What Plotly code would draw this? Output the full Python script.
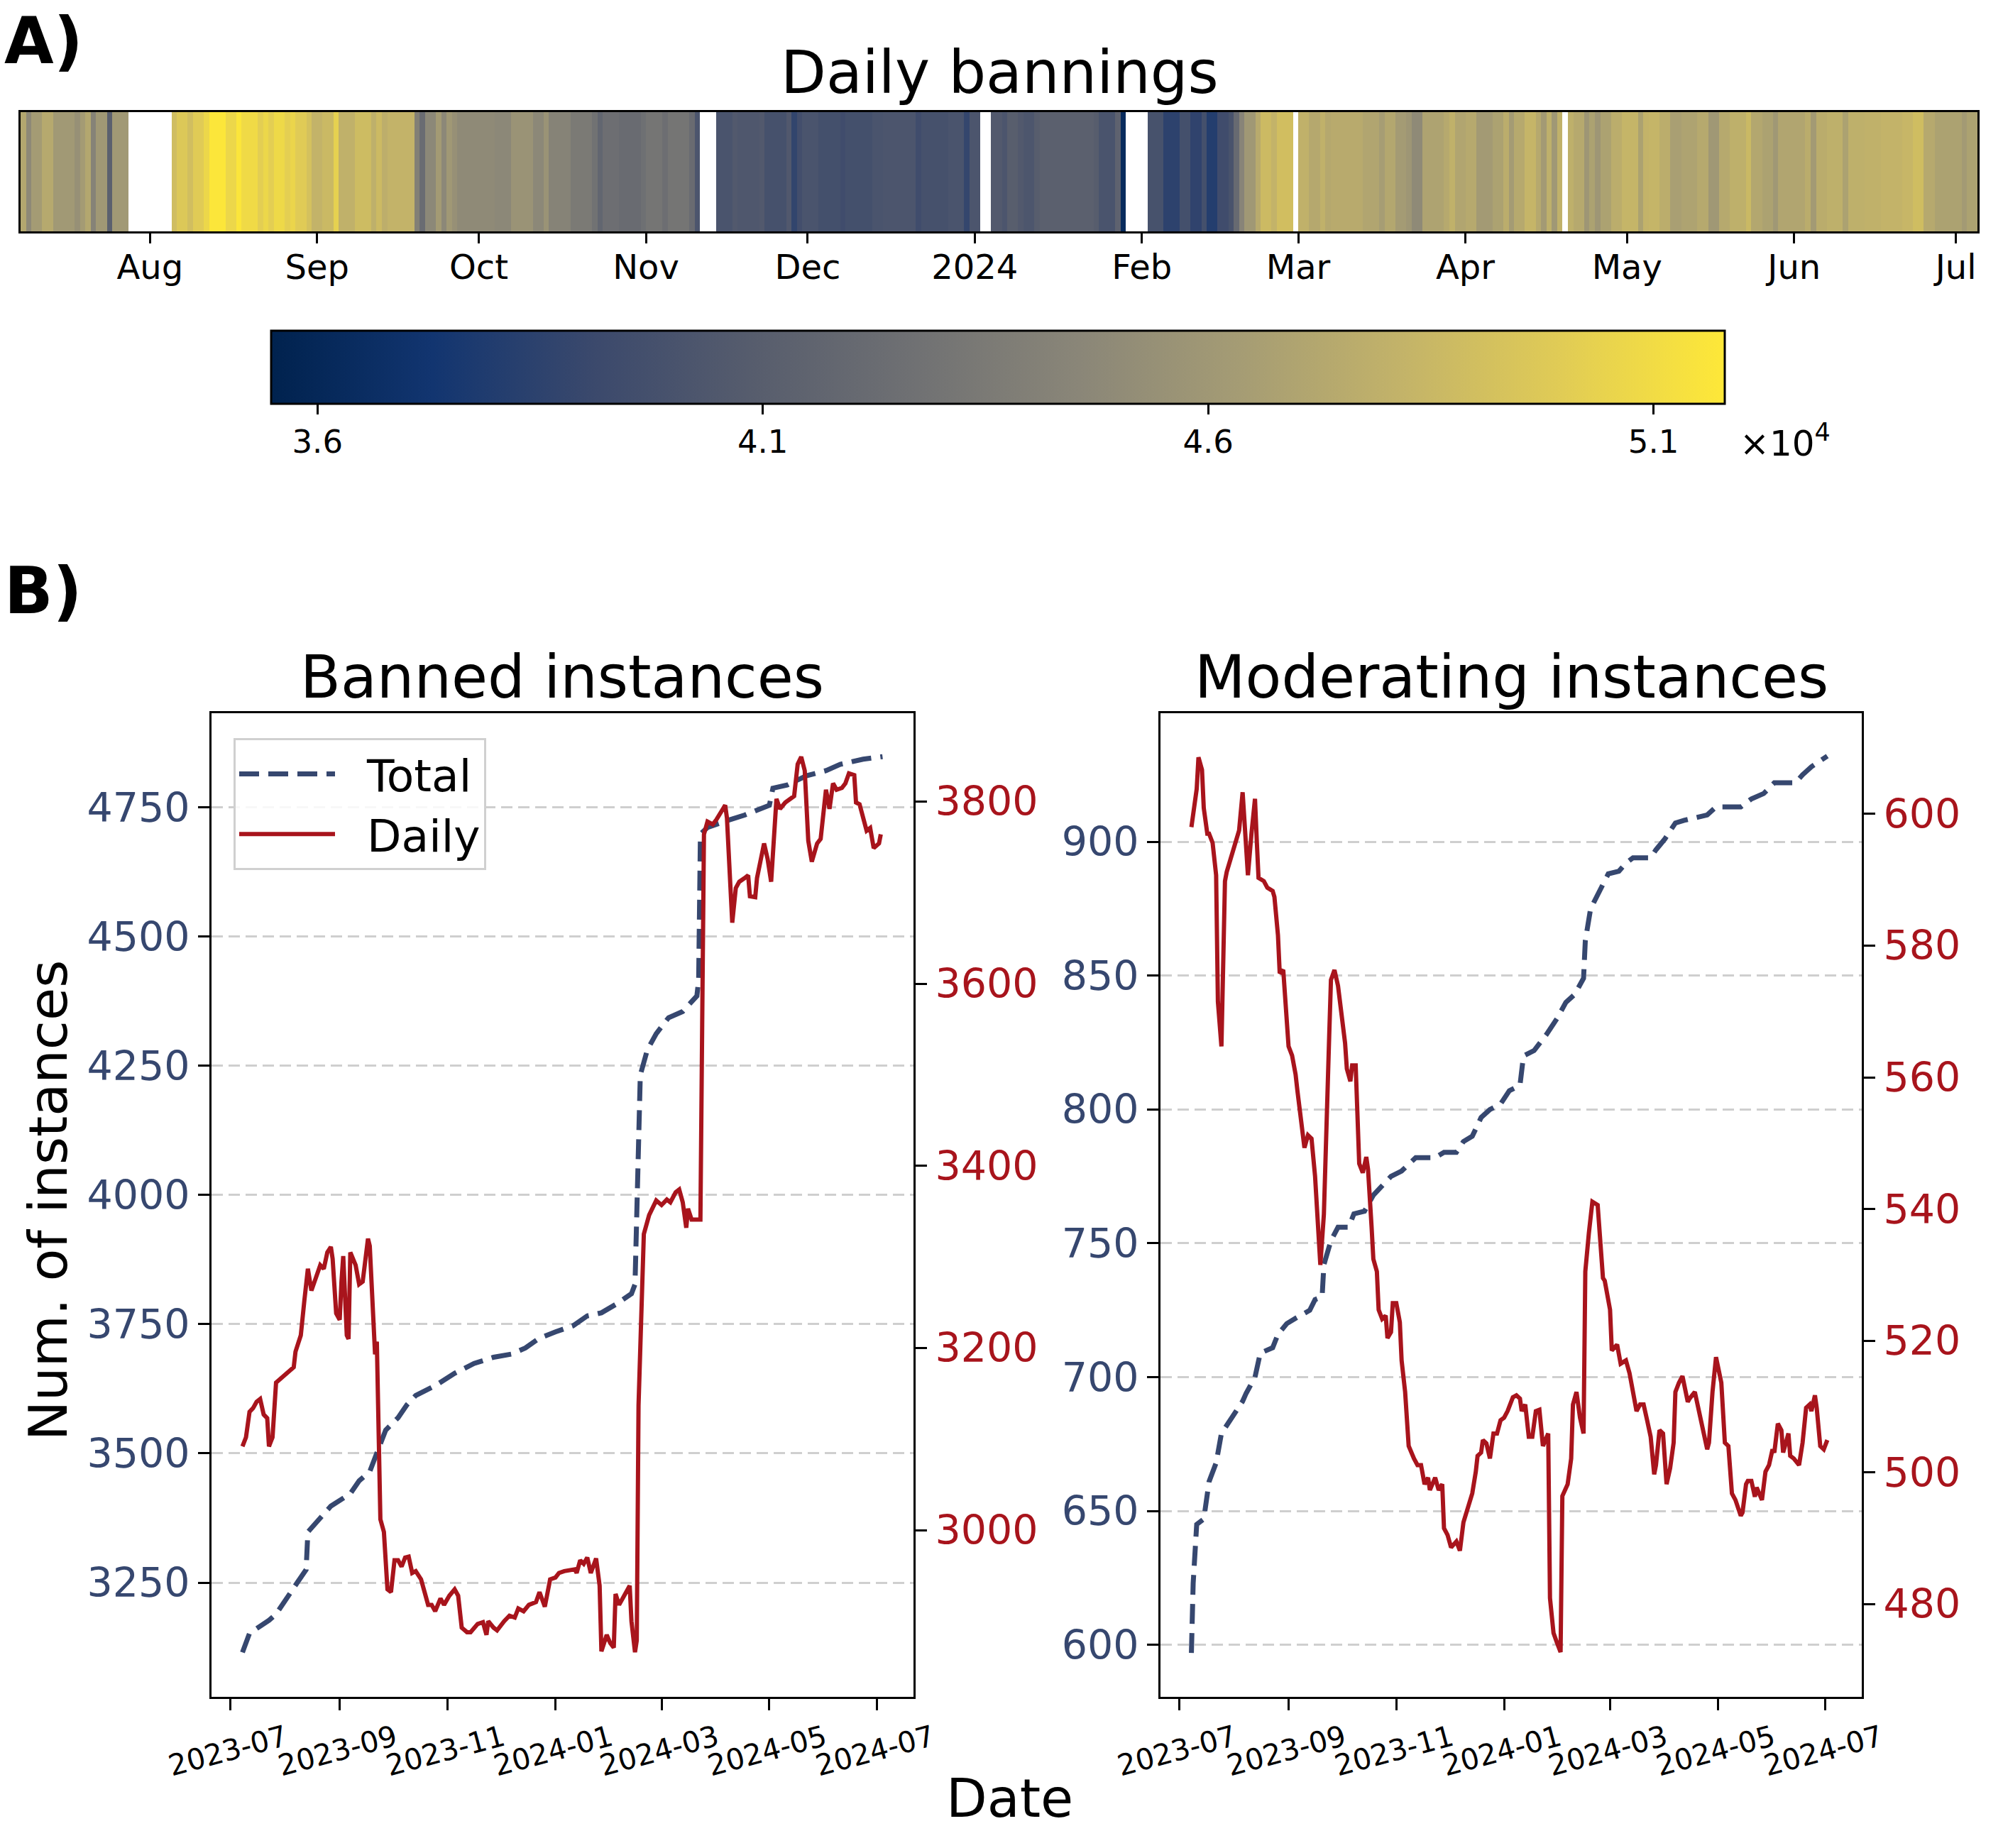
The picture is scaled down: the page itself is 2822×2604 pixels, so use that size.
import numpy as np
import pandas as pd
import plotly.graph_objects as go

FONT = "DejaVu Sans"
NAVY = "#36476f"
RED = "#a8141c"
W, H = 2822, 2604

START = pd.Timestamp("2023-07-08")

# ---------------- Panel A: daily bannings (stripes as runs of days) ----------------
HEAT_RUN_DAYS = [
    1, 1, 2, 2, 4, 1, 1, 1, 1, 2, 1, 3, 8,
    1, 2, 1, 2, 1, 3, 2, 1, 3, 1, 1, 1, 2, 1, 1, 2, 1, 2, 2, 1, 3, 3, 1, 1, 1, 5, 1, 1, 2, 1, 1, 1, 1, 7, 3,
    4, 2, 1, 4, 4, 1, 1, 3, 4, 1, 3, 1, 4, 1, 1, 3,
    3, 1, 4, 1, 4, 1, 1, 1, 3, 4, 1, 5, 2, 6, 1, 5, 3, 1, 2, 2,
    2, 1, 2, 1, 2, 1, 10, 1, 3, 1, 1, 4,
    3, 3, 2, 2, 1, 2, 2, 1, 1, 1, 2, 1, 2, 1, 3, 1,
    2, 2, 1, 1, 6, 3, 1, 2, 2, 1, 2, 4, 1, 1, 2, 2, 3,
    2, 1, 1, 2, 2, 1, 1, 1, 1, 1, 1,
    1, 2, 1, 1, 1, 2, 2, 3, 1, 1, 2, 2, 2, 3, 2, 2, 2, 3, 1, 2, 2, 1, 5, 1, 1, 2, 3, 1, 3, 3, 4, 2, 2, 2, 5, 1, 3,
]
HEAT_RUN_VALUES = [
    47200, 44800, 46300, 47400, 46100, 45400, 46300, 47200, 44300, 46000, 41200, 46100, None,
    48900, 49700, 49000, 49900, 50700, 51700, 50700, 51600, 50900, 50100, 50700, 50100, 50800, 50200, 50600,
    49900, 49200, 48200, 48600, 50300, 48000, 48800, 47900, 48700, 47800, 48200, 44000, 42300, 44700, 46200,
    44700, 46000, 45400, 44900, 44700,
    45600, 44700, 45600, 44300, 43500, 42800, 41700, 42500, 42200, 42600, 43100, 42500, 43100, 42200, 40200, None,
    40100, 40600, 40400, 40600, 39800, 40500, 38700, 39600, 40100, 39700, 39400, 39700, 40100, 40200, 39400,
    39800, 40100, 38800, 40200, None,
    40600, 40200, 41000, 40600, 40300, 40900, 41200, 40900, 40100, 41400, 36300, None,
    39900, 38500, 39700, 38600, 39700, 38100, 39400, 40000, 42100, 44400, 46000, 47500, 48700, 48200, 49000, None,
    48000, 47300, 48000, 47300, 47500, 47100, 46400, 47200, 46300, 45900, 44900, 46900, 47400, 48000, 47100,
    47400, 46200,
    46800, 47700, 46300, 47400, 48300, 47400, 46200, 47900, 46000, 48000, None,
    47900, 47400, 45900, 46800, 45900, 46800, 47700, 48300, 46800, 48200, 48300, 47700, 46600, 46900, 47400,
    46000, 47400, 47900, 48600, 47200, 46800, 46000, 47100, 47600, 46200, 47600, 47900, 46800, 47900, 48000,
    48200, 48400, 48900, 47400, 46800, 46200, 46800,
]
MONTH_TICKS = ["2023-08-01", "2023-09-01", "2023-10-01", "2023-11-01", "2023-12-01", "2024-01-01",
               "2024-02-01", "2024-03-01", "2024-04-01", "2024-05-01", "2024-06-01", "2024-07-01"]
MONTH_LABELS = ["Aug", "Sep", "Oct", "Nov", "Dec", "2024", "Feb", "Mar", "Apr", "May", "Jun", "Jul"]
CBAR_TICKS = [36000, 41000, 46000, 51000]
CBAR_LABELS = ["3.6", "4.1", "4.6", "5.1"]

# ---------------- Panel B: banned instances ----------------
BAN_TOTAL_DAY = [0, 4, 15, 19, 31, 36, 37, 42, 50, 61, 66, 72, 77, 81, 88, 93, 98, 109, 120, 131, 142, 152, 160,
                 168, 177, 187, 195, 203, 212, 220, 222, 223, 224, 225, 229, 234, 241, 249, 257, 258, 259, 263,
                 273, 284, 298, 300, 308, 319, 330, 338, 351, 362]
BAN_TOTAL = [3115, 3152, 3177, 3189, 3250, 3275, 3348, 3367, 3398, 3422, 3447, 3465, 3508, 3545, 3569, 3594, 3612,
             3631, 3655, 3674, 3686, 3692, 3704, 3723, 3735, 3747, 3766, 3772, 3790, 3809, 3827, 3962, 4085, 4232,
             4281, 4312, 4343, 4355, 4385, 4416, 4698, 4711, 4723, 4735, 4754, 4787, 4793, 4811, 4821, 4833,
             4843, 4848]
BAN_DAILY_DAY = [0, 2, 4, 6, 8, 10, 12, 14, 15, 17, 19, 29, 30, 33, 35, 37, 39, 42, 44, 46, 48, 50, 51, 53, 55, 56,
                 57, 59, 60, 61, 64, 66, 68, 71, 72, 75, 76, 78, 80, 82, 84, 86, 88, 90, 92, 94, 96, 98, 101, 103,
                 105, 107, 109, 112, 114, 117, 120, 122, 124, 127, 129, 133, 136, 138, 139, 142, 144, 148, 151,
                 154, 156, 159, 162, 166, 168, 171, 174, 177, 179, 182, 185, 188, 189, 191, 193, 195, 197, 199,
                 200, 202, 203, 206, 208, 210, 211, 213, 216, 219, 220, 222, 223, 224, 226, 227, 230, 232, 234,
                 237, 240, 242, 245, 247, 249, 251, 252, 254, 259, 260, 261, 263, 266, 268, 271, 273, 274, 276,
                 277, 279, 281, 284, 286, 287, 290, 291, 293, 295, 297, 299, 302, 304, 307, 310, 312, 314, 316,
                 318, 320, 322, 325, 327, 329, 330, 332, 334, 336, 339, 341, 343, 346, 347, 349, 351, 353, 355,
                 357, 360, 361]
BAN_DAILY = [3092, 3102, 3130, 3134, 3141, 3144, 3127, 3123, 3092, 3102, 3162, 3179, 3196, 3214, 3252, 3287, 3263,
             3280, 3291, 3287, 3305, 3311, 3298, 3238, 3231, 3273, 3301, 3214, 3210, 3305, 3291, 3270, 3273, 3320,
             3312, 3193, 3207, 3012, 2998, 2935, 2932, 2967, 2967, 2960, 2970, 2971, 2953, 2955, 2946, 2932, 2918,
             2918, 2911, 2925, 2918, 2928, 2935, 2928, 2893, 2888, 2888, 2897, 2899, 2885, 2900, 2893, 2890, 2900,
             2906, 2904, 2914, 2911, 2918, 2921, 2932, 2916, 2946, 2948, 2953, 2955, 2956, 2957, 2953, 2967, 2963,
             2970, 2953, 2963, 2969, 2939, 2867, 2885, 2876, 2871, 2930, 2918, 2928, 2939, 2900, 2866, 2879, 3137,
             3263, 3325, 3346, 3353, 3362, 3357, 3363, 3360, 3371, 3374, 3360, 3332, 3353, 3341, 3341, 3555, 3764,
             3778, 3775, 3780, 3789, 3796, 3782, 3702, 3667, 3705, 3712, 3716, 3719, 3696, 3695, 3716, 3737, 3754,
             3737, 3712, 3803, 3792, 3799, 3803, 3806, 3841, 3849, 3834, 3757, 3734, 3754, 3759, 3799, 3813, 3792,
             3820, 3813, 3815, 3820, 3831, 3829, 3799, 3797, 3782, 3768, 3771, 3749, 3754, 3764]

# ---------------- Panel B: moderating instances ----------------
MOD_TOTAL_DAY = [0, 1, 3, 7, 10, 14, 17, 23, 29, 31, 36, 39, 46, 49, 54, 59, 67, 70, 74, 75, 79, 83, 89, 92, 98,
                 103, 113, 119, 127, 138, 143, 150, 154, 159, 164, 169, 175, 180, 186, 188, 194, 201, 207, 212,
                 217, 222, 223, 226, 231, 236, 242, 246, 250, 260, 263, 268, 274, 279, 292, 297, 311, 317, 324,
                 330, 342, 346, 351, 360]
MOD_TOTAL = [597, 623, 645, 647, 661, 668, 679, 685, 691, 694, 700, 709, 711, 716, 720, 722, 725, 729, 730, 742,
             751, 756, 756, 761, 762, 768, 775, 777, 782, 782, 784, 784, 788, 790, 797, 800, 802, 807, 809, 820,
             822, 828, 834, 840, 843, 849, 863, 875, 882, 888, 889, 892, 894, 894, 897, 901, 907, 908, 910, 913,
             913, 916, 918, 922, 922, 925, 928, 932]
MOD_DAILY_DAY = [0, 3, 4, 6, 7, 9, 10, 12, 14, 15, 17, 19, 20, 23, 27, 29, 31, 32, 34, 36, 37, 38, 41, 43, 46, 47,
                 49, 50, 52, 54, 55, 57, 59, 60, 62, 64, 66, 68, 70, 71, 73, 75, 76, 78, 79, 81, 83, 85, 87, 88,
                 90, 91, 93, 95, 97, 99, 100, 102, 103, 105, 106, 108, 110, 111, 113, 114, 116, 118, 119, 121,
                 123, 126, 128, 130, 132, 134, 135, 138, 140, 142, 143, 145, 147, 150, 152, 154, 157, 159, 161,
                 162, 164, 165, 167, 169, 171, 173, 175, 177, 179, 182, 184, 186, 187, 189, 191, 193, 195, 197,
                 199, 202, 203, 205, 207, 209, 210, 213, 215, 216, 218, 220, 222, 223, 225, 227, 230, 232, 233,
                 234, 237, 238, 241, 243, 246, 248, 250, 252, 254, 256, 258, 260, 262, 263, 265, 267, 269, 271,
                 273, 274, 276, 278, 281, 282, 285, 287, 289, 292, 293, 295, 297, 298, 300, 302, 304, 306, 308,
                 311, 312, 314, 315, 317, 319, 320, 323, 325, 327, 329, 330, 332, 334, 335, 338, 339, 341, 344,
                 346, 348, 350, 351, 353, 354, 356, 358, 359, 360]
MOD_DAILY = [598.0, 603.8, 608.6, 606.7, 600.9, 597.0, 597.0, 595.6, 590.7, 571.5, 564.7, 589.8, 591.2, 594.1,
             597.5, 603.3, 596.0, 590.7, 597.0, 602.3, 596.0, 590.3, 589.8, 588.8, 588.3, 587.4, 581.6, 575.8,
             576.3, 569.1, 564.7, 563.3, 560.4, 558.0, 553.6, 549.3, 551.2, 550.7, 545.0, 541.1, 531.5, 539.2,
             549.8, 566.2, 574.8, 576.3, 573.9, 569.1, 565.2, 561.3, 559.4, 561.8, 561.8, 546.9, 545.5, 547.9,
             546.0, 537.3, 532.4, 530.5, 524.7, 523.3, 523.8, 520.4, 521.3, 525.7, 525.7, 522.8, 517.0, 512.2,
             504.0, 502.1, 501.1, 501.1, 498.2, 499.2, 497.3, 499.2, 497.3, 498.2, 491.5, 490.5, 488.6, 489.5,
             488.1, 492.4, 495.3, 496.8, 500.1, 502.5, 503.0, 504.9, 504.4, 502.1, 505.9, 505.9, 507.9, 508.3,
             509.3, 511.4, 511.7, 511.2, 509.3, 510.3, 505.4, 505.4, 509.3, 509.5, 504.0, 505.9, 480.9, 475.6,
             474.1, 472.7, 496.4, 498.2, 502.1, 510.3, 512.2, 508.3, 505.9, 530.5, 536.3, 541.1, 540.6, 532.9,
             529.5, 529.1, 524.7, 518.5, 519.4, 516.5, 517.0, 515.1, 512.2, 509.3, 510.3, 510.3, 507.9, 505.4,
             499.7, 501.1, 506.4, 505.9, 498.2, 500.6, 504.5, 512.2, 513.6, 514.6, 510.7, 511.2, 512.2, 509.8,
             507.4, 503.5, 504.5, 512.2, 517.5, 516.0, 513.6, 504.5, 504.0, 496.8, 495.8, 493.4, 493.9, 498.2,
             498.7, 498.7, 496.3, 497.7, 495.8, 500.1, 501.1, 503.5, 503.0, 507.4, 506.4, 503.0, 505.9, 502.5,
             502.1, 501.1, 504.5, 509.8, 510.3, 509.3, 511.7, 509.8, 504.0, 503.5, 504.5, 504.9]

DATE_TICKS = ["2023-07-01", "2023-09-01", "2023-11-01", "2024-01-01", "2024-03-01", "2024-05-01", "2024-07-01"]
DATE_LABELS = ["2023-07", "2023-09", "2023-11", "2024-01", "2024-03", "2024-05", "2024-07"]
BAN_TOTAL_TICKS = [3250, 3500, 3750, 4000, 4250, 4500, 4750]
BAN_DAILY_TICKS = [3000, 3200, 3400, 3600, 3800]
MOD_TOTAL_TICKS = [600, 650, 700, 750, 800, 850, 900]
MOD_DAILY_TICKS = [480, 500, 520, 540, 560, 580, 600]


def to_dates(days):
    return START + pd.to_timedelta(np.asarray(days), unit="D")


# expand stripe runs into daily values
heat_vals = []
for n, v in zip(HEAT_RUN_DAYS, HEAT_RUN_VALUES):
    heat_vals += [np.nan if v is None else v] * n
heat_dates = START + pd.to_timedelta(np.arange(len(heat_vals)), unit="D") + pd.Timedelta(hours=12)


def px_x(p):
    return p / W


def px_y(p):
    return 1 - p / H


fig = go.Figure()

fig.add_trace(go.Heatmap(
    z=[heat_vals], x=heat_dates, y=[0], xaxis="x", yaxis="y",
    colorscale="cividis", zmin=35480, zmax=51800, hoverongaps=False,
    colorbar=dict(
        orientation="h", x=px_x(1406), xanchor="center", y=px_y(466), yanchor="top",
        len=2048, lenmode="pixels", thickness=103, thicknessmode="pixels",
        outlinewidth=3, outlinecolor="black", xpad=0, ypad=0,
        tickvals=CBAR_TICKS, ticktext=CBAR_LABELS, ticks="outside", ticklen=14, tickwidth=2.5,
        tickcolor="black", tickfont=dict(size=45, family=FONT, color="black"),
    ),
))

line_total = dict(color=NAVY, width=7, dash="28px,13px")
line_daily = dict(color=RED, width=6)
GAP = "\u00a0\u00a0"

fig.add_trace(go.Scatter(x=to_dates(BAN_TOTAL_DAY), y=BAN_TOTAL, mode="lines", name=GAP + "Total",
                         line=line_total, xaxis="x2", yaxis="y2"))
fig.add_trace(go.Scatter(x=to_dates(BAN_DAILY_DAY), y=BAN_DAILY, mode="lines", name=GAP + "Daily",
                         line=line_daily, xaxis="x2", yaxis="y3"))
fig.add_trace(go.Scatter(x=to_dates(MOD_TOTAL_DAY), y=MOD_TOTAL, mode="lines", name="Total",
                         line=line_total, xaxis="x3", yaxis="y4", showlegend=False))
fig.add_trace(go.Scatter(x=to_dates(MOD_DAILY_DAY), y=MOD_DAILY, mode="lines", name="Daily",
                         line=line_daily, xaxis="x3", yaxis="y5", showlegend=False))

spine = dict(showline=True, linecolor="black", linewidth=3, zeroline=False, showgrid=False, automargin=False)
tick_common = dict(ticks="outside", ticklen=16, tickwidth=2.5, tickcolor="black")

date_axis = dict(
    type="date", range=["2023-06-20 12:00", "2024-07-21 12:00"], mirror=True,
    tickvals=DATE_TICKS, ticktext=DATE_LABELS, tickangle=-15, ticklabelshift=78,
    tickfont=dict(size=41, family=FONT, color="black"), **spine, **tick_common,
)

ydom = [px_y(2391), px_y(1005)]
grid = dict(showgrid=True, gridcolor="#cfcfcf", gridwidth=2.5, griddash="16px,8px")

fig.update_layout(
    width=W, height=H, margin=dict(l=0, r=0, t=0, b=0, autoexpand=False),
    paper_bgcolor="white", plot_bgcolor="white",
    font=dict(family=FONT, color="black"),
    showlegend=True,
    xaxis=dict(domain=[px_x(29), px_x(2786)], anchor="y", type="date",
               range=["2023-07-08", "2024-07-05"], mirror=True,
               tickvals=MONTH_TICKS, ticktext=MONTH_LABELS, ticklabelstandoff=-8,
               tickfont=dict(size=48, family=FONT, color="black"), **spine,
               ticks="outside", ticklen=14, tickwidth=2.5, tickcolor="black"),
    yaxis=dict(domain=[px_y(326), px_y(158)], anchor="x", range=[-0.5, 0.5], mirror=True,
               showticklabels=False, ticks="", **spine),
    xaxis2=dict(domain=[px_x(298), px_x(1287)], anchor="y2", **date_axis),
    yaxis2=dict(domain=ydom, anchor="x2", range=[3029, 4932], tickvals=BAN_TOTAL_TICKS,
                tickfont=dict(size=57, family=FONT, color=NAVY), automargin=False,
                showline=True, linecolor="black", linewidth=3, zeroline=False, **tick_common, **grid),
    yaxis3=dict(overlaying="y2", anchor="x2", side="right", range=[2817, 3897], tickvals=BAN_DAILY_TICKS,
                tickfont=dict(size=57, family=FONT, color=RED), **spine, **tick_common),
    xaxis3=dict(domain=[px_x(1635), px_x(2623)], anchor="y4", **date_axis),
    yaxis4=dict(domain=ydom, anchor="x3", range=[580.6, 948], tickvals=MOD_TOTAL_TICKS,
                tickfont=dict(size=57, family=FONT, color=NAVY), automargin=False,
                showline=True, linecolor="black", linewidth=3, zeroline=False, **tick_common, **grid),
    yaxis5=dict(overlaying="y4", anchor="x3", side="right", range=[465.9, 615.3], tickvals=MOD_DAILY_TICKS,
                tickfont=dict(size=57, family=FONT, color=RED), **spine, **tick_common),
    legend=dict(x=px_x(329), y=px_y(1040), xanchor="left", yanchor="top",
                bgcolor="rgba(255,255,255,0.85)", bordercolor="#d0d0d0", borderwidth=3,
                font=dict(size=63, family=FONT, color="black"), itemwidth=135, tracegroupgap=0),
)

annotations = [
    dict(text="<b>A)</b>", x=px_x(4), y=px_y(58), xanchor="left", yanchor="middle", font=dict(size=90)),
    dict(text="<b>B)</b>", x=px_x(4), y=px_y(832), xanchor="left", yanchor="middle", font=dict(size=90)),
    dict(text="Daily bannings", x=px_x(1408), y=px_y(103), xanchor="center", yanchor="middle",
         font=dict(size=83)),
    dict(text="×10<sup>4</sup>", x=px_x(2515), y=px_y(621), xanchor="center", yanchor="middle",
         font=dict(size=50)),
    dict(text="Banned instances", x=px_x(792), y=px_y(954), xanchor="center", yanchor="middle",
         font=dict(size=83)),
    dict(text="Moderating instances", x=px_x(2129), y=px_y(954), xanchor="center", yanchor="middle",
         font=dict(size=83)),
    dict(text="Num. of instances", x=px_x(68), y=px_y(1692), xanchor="center", yanchor="middle",
         textangle=-90, font=dict(size=75)),
    dict(text="Date", x=px_x(1422), y=px_y(2534), xanchor="center", yanchor="middle", font=dict(size=75)),
]
for a in annotations:
    a.update(xref="paper", yref="paper", showarrow=False)
    a["font"].update(family=FONT, color="black")
fig.update_layout(annotations=annotations)

fig.write_html("out.html")
